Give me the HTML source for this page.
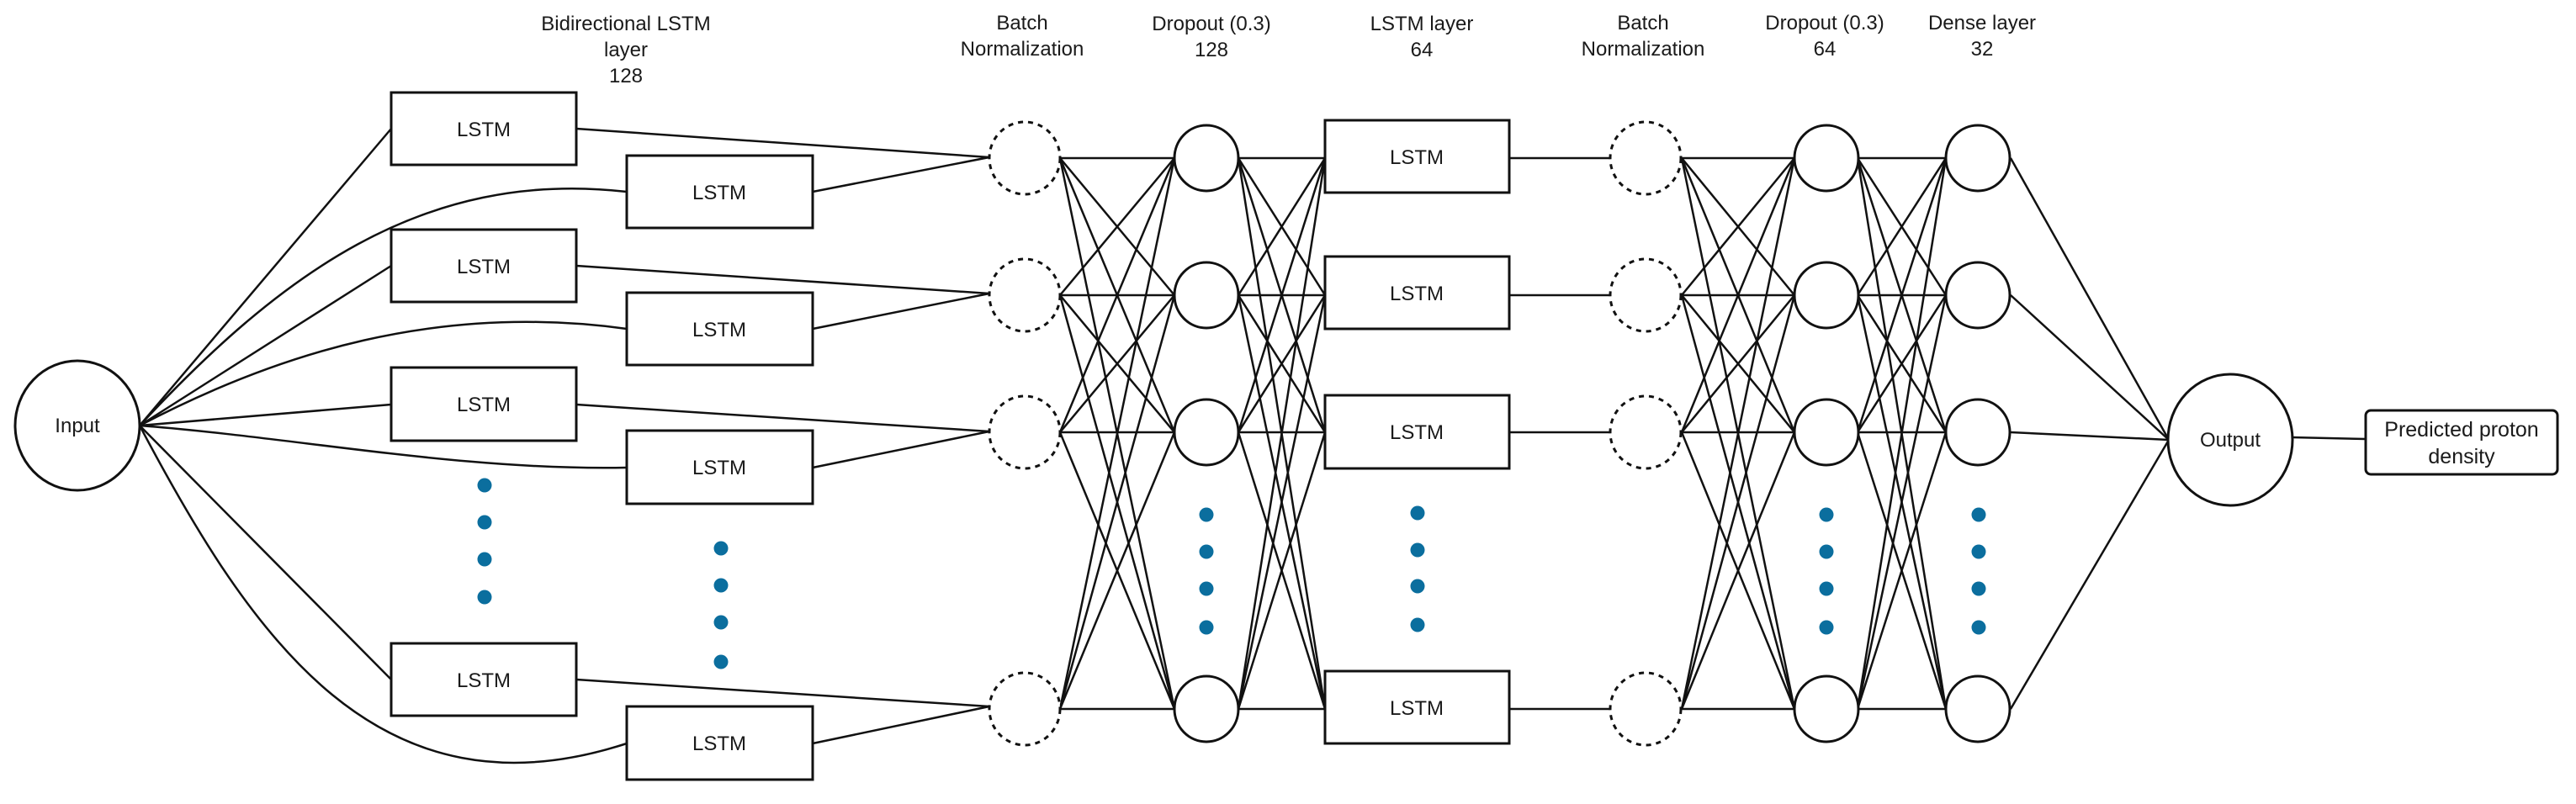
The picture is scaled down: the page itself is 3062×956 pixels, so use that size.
<!DOCTYPE html>
<html><head><meta charset="utf-8"><style>
html,body{margin:0;padding:0;background:#fff}
svg{display:block}
text{font-family:"Liberation Sans",sans-serif;fill:#1a1a1a}
</style></head><body>
<svg id="s" width="3062" height="956" viewBox="0 0 3062 956" xmlns="http://www.w3.org/2000/svg">
<g id="lines" stroke="#111" stroke-width="2.5" fill="none">
<path d="M166,506 C330,330 500,200 745,228"/>
<path d="M166,506 C330,420 520,360 745,391"/>
<path d="M166,506 C350,520 550,560 745,556"/>
<path d="M166,506 C300,760 450,980 745,884"/>
<line x1="166" y1="506" x2="465" y2="153"/>
<line x1="166" y1="506" x2="465" y2="316"/>
<line x1="166" y1="506" x2="465" y2="481"/>
<line x1="166" y1="506" x2="465" y2="808"/>
<line x1="685" y1="153" x2="1176" y2="187"/><line x1="966" y1="228" x2="1176" y2="187"/>
<line x1="685" y1="316" x2="1176" y2="349"/><line x1="966" y1="391" x2="1176" y2="349"/>
<line x1="685" y1="481" x2="1176" y2="513"/><line x1="966" y1="556" x2="1176" y2="513"/>
<line x1="685" y1="808" x2="1176" y2="840"/><line x1="966" y1="884" x2="1176" y2="840"/>
<line x1="2724" y1="520" x2="2812" y2="522"/>
</g>
<g id="shapes" stroke="#111" stroke-width="3" fill="#fff">
<ellipse cx="92" cy="506" rx="74" ry="77"/>
<rect x="465" y="110" width="220" height="86"/>
<rect x="465" y="273" width="220" height="86"/>
<rect x="465" y="437" width="220" height="87"/>
<rect x="465" y="765" width="220" height="86"/>
<rect x="745" y="185" width="221" height="86"/>
<rect x="745" y="348" width="221" height="86"/>
<rect x="745" y="512" width="221" height="87"/>
<rect x="745" y="840" width="221" height="87"/>
<rect x="1575" y="143" width="219" height="86"/>
<rect x="1575" y="305" width="219" height="86"/>
<rect x="1575" y="470" width="219" height="87"/>
<rect x="1575" y="798" width="219" height="86"/>
<ellipse cx="2651" cy="523" rx="74" ry="78"/>
<rect x="2812" y="488" width="228" height="76" rx="6"/>
</g>
<g id="extra"></g>
<g font-size="24" text-anchor="middle">
<text x="92" y="514">Input</text>
<text x="575" y="162">LSTM</text><text x="575" y="325">LSTM</text><text x="575" y="489">LSTM</text><text x="575" y="817">LSTM</text>
<text x="855" y="237">LSTM</text><text x="855" y="400">LSTM</text><text x="855" y="564">LSTM</text><text x="855" y="892">LSTM</text>
<text x="1684" y="195">LSTM</text><text x="1684" y="357">LSTM</text><text x="1684" y="522">LSTM</text><text x="1684" y="850">LSTM</text>
<text x="2651" y="531">Output</text>
<text x="2926" y="519" font-size="25">Predicted proton</text>
<text x="2926" y="551" font-size="25">density</text>
<text x="744" y="36">Bidirectional LSTM</text><text x="744" y="67">layer</text><text x="744" y="98">128</text>
<text x="1215" y="35">Batch</text><text x="1215" y="66">Normalization</text>
<text x="1440" y="36">Dropout (0.3)</text><text x="1440" y="67">128</text>
<text x="1690" y="36">LSTM layer</text><text x="1690" y="67">64</text>
<text x="1953" y="35">Batch</text><text x="1953" y="66">Normalization</text>
<text x="2169" y="35">Dropout (0.3)</text><text x="2169" y="66">64</text>
<text x="2356" y="35">Dense layer</text><text x="2356" y="66">32</text>
</g>
<g fill="#0b6e9e">
<circle cx="576" cy="577" r="8.5"/><circle cx="576" cy="621" r="8.5"/><circle cx="576" cy="665" r="8.5"/><circle cx="576" cy="710" r="8.5"/>
<circle cx="857" cy="652" r="8.5"/><circle cx="857" cy="696" r="8.5"/><circle cx="857" cy="740" r="8.5"/><circle cx="857" cy="787" r="8.5"/>
<circle cx="1434" cy="612" r="8.5"/><circle cx="1434" cy="656" r="8.5"/><circle cx="1434" cy="700" r="8.5"/><circle cx="1434" cy="746" r="8.5"/>
<circle cx="1685" cy="610" r="8.5"/><circle cx="1685" cy="654" r="8.5"/><circle cx="1685" cy="697" r="8.5"/><circle cx="1685" cy="743" r="8.5"/>
<circle cx="2171" cy="612" r="8.5"/><circle cx="2171" cy="656" r="8.5"/><circle cx="2171" cy="700" r="8.5"/><circle cx="2171" cy="746" r="8.5"/>
<circle cx="2352" cy="612" r="8.5"/><circle cx="2352" cy="656" r="8.5"/><circle cx="2352" cy="700" r="8.5"/><circle cx="2352" cy="746" r="8.5"/>
</g>
</svg>
<script>
(function(){
var NS="http://www.w3.org/2000/svg";
var L=document.getElementById('lines'),E=document.getElementById('extra');
var rows=[188,351,514,843];
function ln(x1,y1,x2,y2){var l=document.createElementNS(NS,'line');l.setAttribute('x1',x1);l.setAttribute('y1',y1);l.setAttribute('x2',x2);l.setAttribute('y2',y2);L.appendChild(l);}
function full(xa,xb){for(var i=0;i<4;i++)for(var j=0;j<4;j++)ln(xa,rows[i],xb,rows[j]);}
full(1260,1396);full(1472,1575);full(1999,2133);full(2208,2313);
for(var i=0;i<4;i++){ln(1794,rows[i],1913,rows[i]);ln(2390,rows[i],2578,523);}
function ell(cx,cy,dash){var e=document.createElementNS(NS,'ellipse');e.setAttribute('cx',cx);e.setAttribute('cy',cy);e.setAttribute('rx',dash?42:38);e.setAttribute('ry',dash?43:39);e.setAttribute('fill','#fff');e.setAttribute('stroke','#111');e.setAttribute('stroke-width','3');if(dash)e.setAttribute('stroke-dasharray','6 6');E.appendChild(e);}
for(var i=0;i<4;i++){ell(1218,rows[i],1);ell(1956,rows[i],1);ell(1434,rows[i],0);ell(2171,rows[i],0);ell(2351,rows[i],0);}
})();
</script>
</body></html>
